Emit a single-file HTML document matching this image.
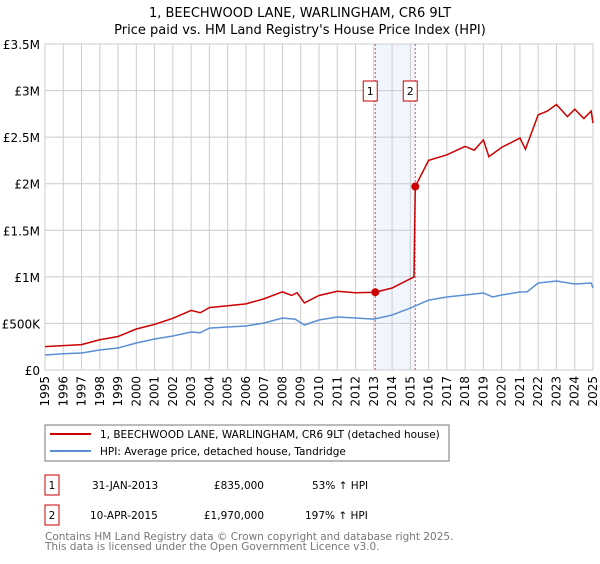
<!DOCTYPE html>
<html><head><meta charset="utf-8"><style>
body{margin:0;background:#fff;font-family:"DejaVu Sans","Liberation Sans",sans-serif;}
svg text{font-family:"DejaVu Sans","Liberation Sans",sans-serif;}
</style></head><body>
<svg id="chart" width="600" height="560" xmlns="http://www.w3.org/2000/svg">
<text x="300" y="17" text-anchor="middle" font-size="13">1, BEECHWOOD LANE, WARLINGHAM, CR6 9LT</text>
<text x="300" y="34" text-anchor="middle" font-size="13">Price paid vs. HM Land Registry's House Price Index (HPI)</text>
<g id="grid"></g><g id="marks"></g><g id="axes"></g>
<rect x="45" y="425" width="404" height="36" fill="#fff" stroke="#777"/>
<line x1="50" y1="434" x2="91" y2="434" stroke="#cc0000" stroke-width="2"/>
<text x="100" y="438" font-size="10.5">1, BEECHWOOD LANE, WARLINGHAM, CR6 9LT (detached house)</text>
<line x1="50" y1="451" x2="91" y2="451" stroke="#5b8fd4" stroke-width="2"/>
<text x="100" y="455" font-size="10.5">HPI: Average price, detached house, Tandridge</text>
<g>
<rect x="45" y="475" width="14" height="20" fill="#fff" stroke="#cc0000"/>
<text x="52" y="489" font-size="10.5" text-anchor="middle">1</text>
<text x="92" y="489" font-size="10.5">31-JAN-2013</text>
<text x="264" y="489" font-size="10.5" text-anchor="end">£835,000</text>
<text x="312" y="489" font-size="10.5">53% ↑ HPI</text></g>
<g>
<rect x="45" y="505" width="14" height="20" fill="#fff" stroke="#cc0000"/>
<text x="52" y="519" font-size="10.5" text-anchor="middle">2</text>
<text x="90" y="519" font-size="10.5">10-APR-2015</text>
<text x="264" y="519" font-size="10.5" text-anchor="end">£1,970,000</text>
<text x="305" y="519" font-size="10.5">197% ↑ HPI</text></g>
<text x="45" y="540" font-size="10.5" fill="#777">Contains HM Land Registry data © Crown copyright and database right 2025.</text>
<text x="45" y="550" font-size="10.5" fill="#777">This data is licensed under the Open Government Licence v3.0.</text>
</svg>
<script>
const hpiYears=[1995,1996,1997,1998,1999,2000,2001,2002,2003,2003.5,2004,2005,2006,2007,2008,2008.7,2009.2,2010,2011,2012,2013,2014,2015,2016,2017,2018,2019,2019.5,2020,2021,2021.4,2022,2023,2024,2024.9,2025];
const hpiValues=[161000,175000,183000,215000,236000,290000,333000,365000,408000,400000,450000,462000,472000,505000,558000,545000,483000,537000,569000,558000,546000,590000,665000,750000,784000,805000,827000,784000,805000,837000,840000,934000,956000,923000,934000,880000];
const priceYears=[1995,1996,1997,1998,1999,2000,2001,2002,2003,2003.5,2004,2005,2006,2007,2008,2008.5,2008.8,2009.2,2010,2011,2012,2013.08,2014,2015.2,2015.27,2016,2017,2018,2018.5,2019,2019.3,2020,2021,2021.3,2022,2022.5,2023,2023.6,2024,2024.5,2024.9,2025];
const priceValues=[251000,262000,273000,325000,360000,440000,490000,555000,640000,615000,670000,690000,710000,765000,840000,800000,830000,720000,800000,845000,830000,835000,880000,1000000,1970000,2250000,2310000,2400000,2360000,2470000,2290000,2390000,2490000,2370000,2740000,2780000,2850000,2720000,2800000,2700000,2780000,2650000];
const saleYears=[2013.08,2015.27];
const saleValues=[835000,1970000];
const saleLabels=["1","2"];
const yTicks=[0,500000,1000000,1500000,2000000,2500000,3000000,3500000];
const yTickLabels=["£0","£500K","£1M","£1.5M","£2M","£2.5M","£3M","£3.5M"];
const X0=45,X1=593,Y0=370,Y1=44;
const xs=y=>X0+(y-1995)/30*(X1-X0);
const ys=v=>Y0-v/3500000*(Y0-Y1);
const NS="http://www.w3.org/2000/svg";
function mk(parent,tag,attrs){const e=document.createElementNS(NS,tag);for(const k in attrs)e.setAttribute(k,attrs[k]);document.getElementById(parent).appendChild(e);return e;}
mk('grid','rect',{x:X0,y:Y1,width:X1-X0,height:Y0-Y1,fill:'#fff',stroke:'#ccc'});
const shade=mk('grid','rect',{x:xs(saleYears[0]),y:Y1,width:xs(saleYears[1])-xs(saleYears[0]),height:Y0-Y1,fill:'#f1f5fd'});


for(let y=1995;y<=2025;y++){
 const g=mk('grid','line',{x1:xs(y),x2:xs(y),y1:Y1,y2:Y0,stroke:'#ccc'});
 
 
 const t=mk('axes','text',{x:0,y:0,'font-size':12,'text-anchor':'end',transform:`translate(${xs(y)+4},${Y0+6}) rotate(-90)`});
 t.textContent=y;
 
 
}
yTicks.forEach((v,i)=>{
 const g=mk('grid','line',{x1:X0,x2:X1,y1:ys(v),y2:ys(v),stroke:'#ccc'});
 
 
 const t=mk('axes','text',{x:X0-5,y:ys(v)+5,'font-size':12,'text-anchor':'end'});
 t.textContent=yTickLabels[i];
 
 
});
saleYears.forEach((yr,i)=>{
 const l=mk('marks','line',{x1:xs(yr),x2:xs(yr),y1:Y1,y2:Y0,stroke:'#e05050','stroke-dasharray':'2,2'});
 
 
});
const hp=mk('marks','polyline',{points:hpiYears.map((y,i)=>xs(y)+','+ys(hpiValues[i])).join(' '),fill:'none',stroke:'#5b8fd4','stroke-width':1.5});


const pp=mk('marks','polyline',{points:priceYears.map((y,i)=>xs(y)+','+ys(priceValues[i])).join(' '),fill:'none',stroke:'#cc0000','stroke-width':1.5});


saleYears.forEach((yr,i)=>{
 const c=mk('marks','circle',{cx:xs(yr),cy:ys(saleValues[i]),r:4,fill:'#cc0000'});
 
 
 const b=mk('marks','rect',{x:xs(yr)-12,y:81,width:14,height:20,fill:'#fff',stroke:'#cc0000'});
 
 
 const t=mk('marks','text',{x:xs(yr)-5,y:95,'font-size':11,'text-anchor':'middle'});
 t.textContent=saleLabels[i];
 
 
});
</script>
</body></html>
